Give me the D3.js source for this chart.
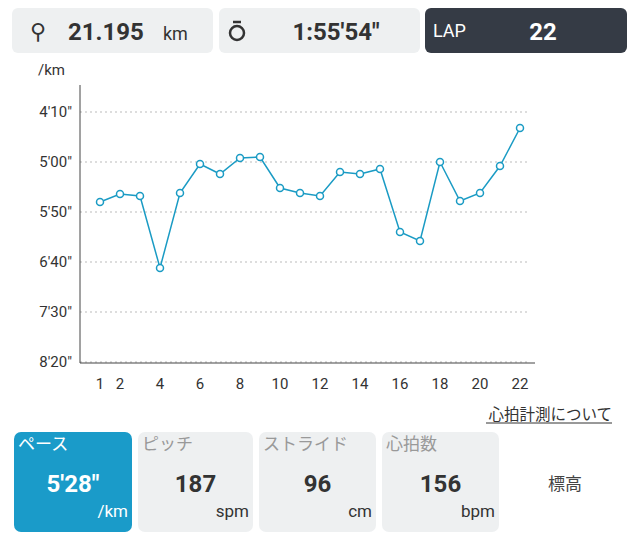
<!DOCTYPE html><html><head><meta charset="utf-8"><script src="https://cdn.jsdelivr.net/npm/d3@7"></script>
<style>body{margin:0;background:#fff;font-family:Roboto,"Noto Sans CJK JP",sans-serif}</style></head><body><svg id="c" width="640" height="539"></svg>
<script>
const laps=[1,2,3,4,5,6,7,8,9,10,11,12,13,14,15,16,17,18,19,20,21,22];
const paceSec=[340,332,334,406,331,302,312,296,295,326,331,334,310,312,307,370,379,300,339,331,304,266];
const yTicks=[250,300,350,400,450,500];
const xTicks=[1,2,4,6,8,10,12,14,16,18,20,22];
const fmt=s=>Math.floor(s/60)+"'"+String(s%60).padStart(2,"0")+'"';
const svg=d3.select("#c");
const F='Roboto,"Noto Sans CJK JP",sans-serif';
[[12,213],[219,420]].forEach(([a,b])=>svg.append("rect").attr("x",a).attr("y",8).attr("width",b-a).attr("height",45).attr("rx",6).attr("fill","#eef0f1"));
svg.append("rect").attr("x",425).attr("y",8).attr("width",202).attr("height",45).attr("rx",6).attr("fill","#353b45");
const t=(x,y,s,sz,opt={})=>svg.append("text").attr("x",x).attr("y",y).text(s).attr("font-size",sz).attr("font-family",F).attr("fill",opt.fill||"#333").attr("font-weight",opt.bold?"bold":"normal").attr("text-anchor",opt.anchor||"start");
t(30,39,"⚲",22);
t(68,40,"21.195",24,{bold:1});t(163,40,"km",18);
svg.append("circle").attr("cx",237).attr("cy",33).attr("r",7).attr("fill","none").attr("stroke","#333").attr("stroke-width",2.5);
svg.append("line").attr("x1",233).attr("x2",241).attr("y1",22).attr("y2",22).attr("stroke","#333").attr("stroke-width",2.5);
t(336,40,"1:55'54\"",24,{bold:1,anchor:"middle"});
t(433,37,"LAP",18,{fill:"#fff"});t(543,40,"22",24,{bold:1,fill:"#fff",anchor:"middle"});
const x=d3.scaleLinear().domain([1,22]).range([100,520]);
const y=d3.scaleLinear().domain([250,500]).range([112,362]);
t(38,75,"/km",15);
const g=svg.append("g");
yTicks.forEach(v=>{g.append("line").attr("x1",80).attr("x2",530).attr("y1",y(v)).attr("y2",y(v)).attr("stroke","#bbb").attr("stroke-dasharray","2,3");
t(72,y(v)+5,fmt(v),15,{anchor:"end"});});
g.append("line").attr("x1",80).attr("x2",80).attr("y1",85).attr("y2",363).attr("stroke","#444");
g.append("line").attr("x1",80).attr("x2",535).attr("y1",363).attr("y2",363).attr("stroke","#444");
xTicks.forEach(v=>t(x(v),389,v,15,{anchor:"middle"}));
const line=d3.line().x((d,i)=>x(laps[i])).y(d=>y(d));
g.append("path").attr("d",line(paceSec)).attr("fill","none").attr("stroke","#1a9bc4").attr("stroke-width",1.5);
g.selectAll("circle.p").data(paceSec).join("circle").attr("cx",(d,i)=>x(laps[i])).attr("cy",d=>y(d)).attr("r",3.5).attr("fill","#fff").attr("stroke","#1a9bc4").attr("stroke-width",1.5);
t(612,420,"心拍計測について",15.5,{anchor:"end"});
svg.append("line").attr("x1",486).attr("x2",612).attr("y1",423).attr("y2",423).attr("stroke","#333");
const panels=[[14,132,"ペース","5'28\"","/km",1],[138,253,"ピッチ","187","spm",0],[259,376,"ストライド","96","cm",0],[382,499,"心拍数","156","bpm",0]];
panels.forEach(([a,b,l,v,u,act])=>{
svg.append("rect").attr("x",a).attr("y",432).attr("width",b-a).attr("height",100).attr("rx",7).attr("fill",act?"#1a9bc9":"#eef0f1");
const c=act?"#fff":"#333";
t(a+4,450,l,17,{fill:act?"#fff":"#999"});
t((a+b)/2,492,v,24,{bold:1,fill:c,anchor:"middle"});
t(b-4,517,u,17,{fill:c,anchor:"end"});});
t(565,490,"標高",17,{anchor:"middle",fill:"#444"});
</script></body></html>
